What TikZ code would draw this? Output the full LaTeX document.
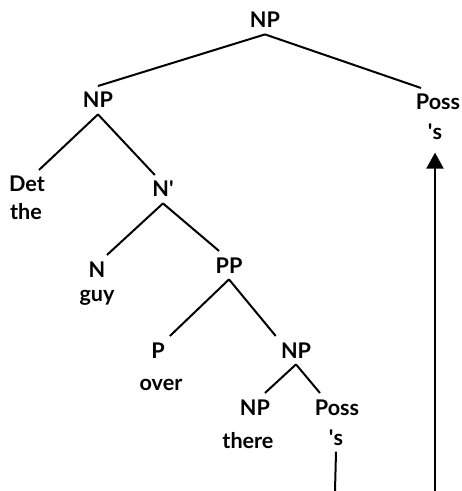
\documentclass[tikz,border=0pt]{standalone}
\usepackage{fontspec}
\setmainfont{Lato}
\usepackage{tikz}
\usetikzlibrary{arrows.meta}

\tikzset{
  lbl/.style={anchor=base, inner sep=3pt, font=\bfseries\fontsize{10.8}{12}\selectfont},
  branch/.style={line width=1pt},
}

\begin{document}
\begin{tikzpicture}[x=0.5pt, y=-0.5pt]
  \useasboundingbox (0,0) rectangle (461,491);

  % Categories
  \foreach \name/\x/\y/\txt in {np0/265/28/NP, np1/98/108/NP, poss1/438/110/Poss,
      det/27/192/Det, nbar/163/197/N\textquotesingle, n/97/277/N, pp/229/273/PP,
      p/158/358/P, np2/296/358/NP, np3/255/415/NP, poss2/337/415/Poss}
    \node[lbl] (\name) at (\x,\y) {\txt};

  % Words
  \foreach \name/\x/\y/\txt in {the/26/220/the, guy/97/301/guy, over/161/390/over,
      there/248/448/there, s2/336/445/\textquotesingle s, s1/435/140/\textquotesingle s}
    \node[lbl] (\name) at (\x,\y) {\txt};

  % Branches
  \foreach \a/\b in {np0.south/np1.north, np0.south/poss1.140, np1.south/det.50,
      np1.south/nbar.120, nbar.south/n.55, nbar.south/pp.125, pp.south/p.50,
      pp.south/np2.145, np2.south/np3.55, np2.south/poss2.140}
    \draw[branch] (\a) -- (\b);

  % Movement
  \coordinate (end1) at (435,491);
  \coordinate (end2) at (335,491);
  \draw[branch, -{Triangle[length=8pt, width=8.5pt]}, shorten >=3pt] (end1) -- (s1.south);
  \draw[branch] (s2.south) -- (end2);
\end{tikzpicture}
\end{document}
